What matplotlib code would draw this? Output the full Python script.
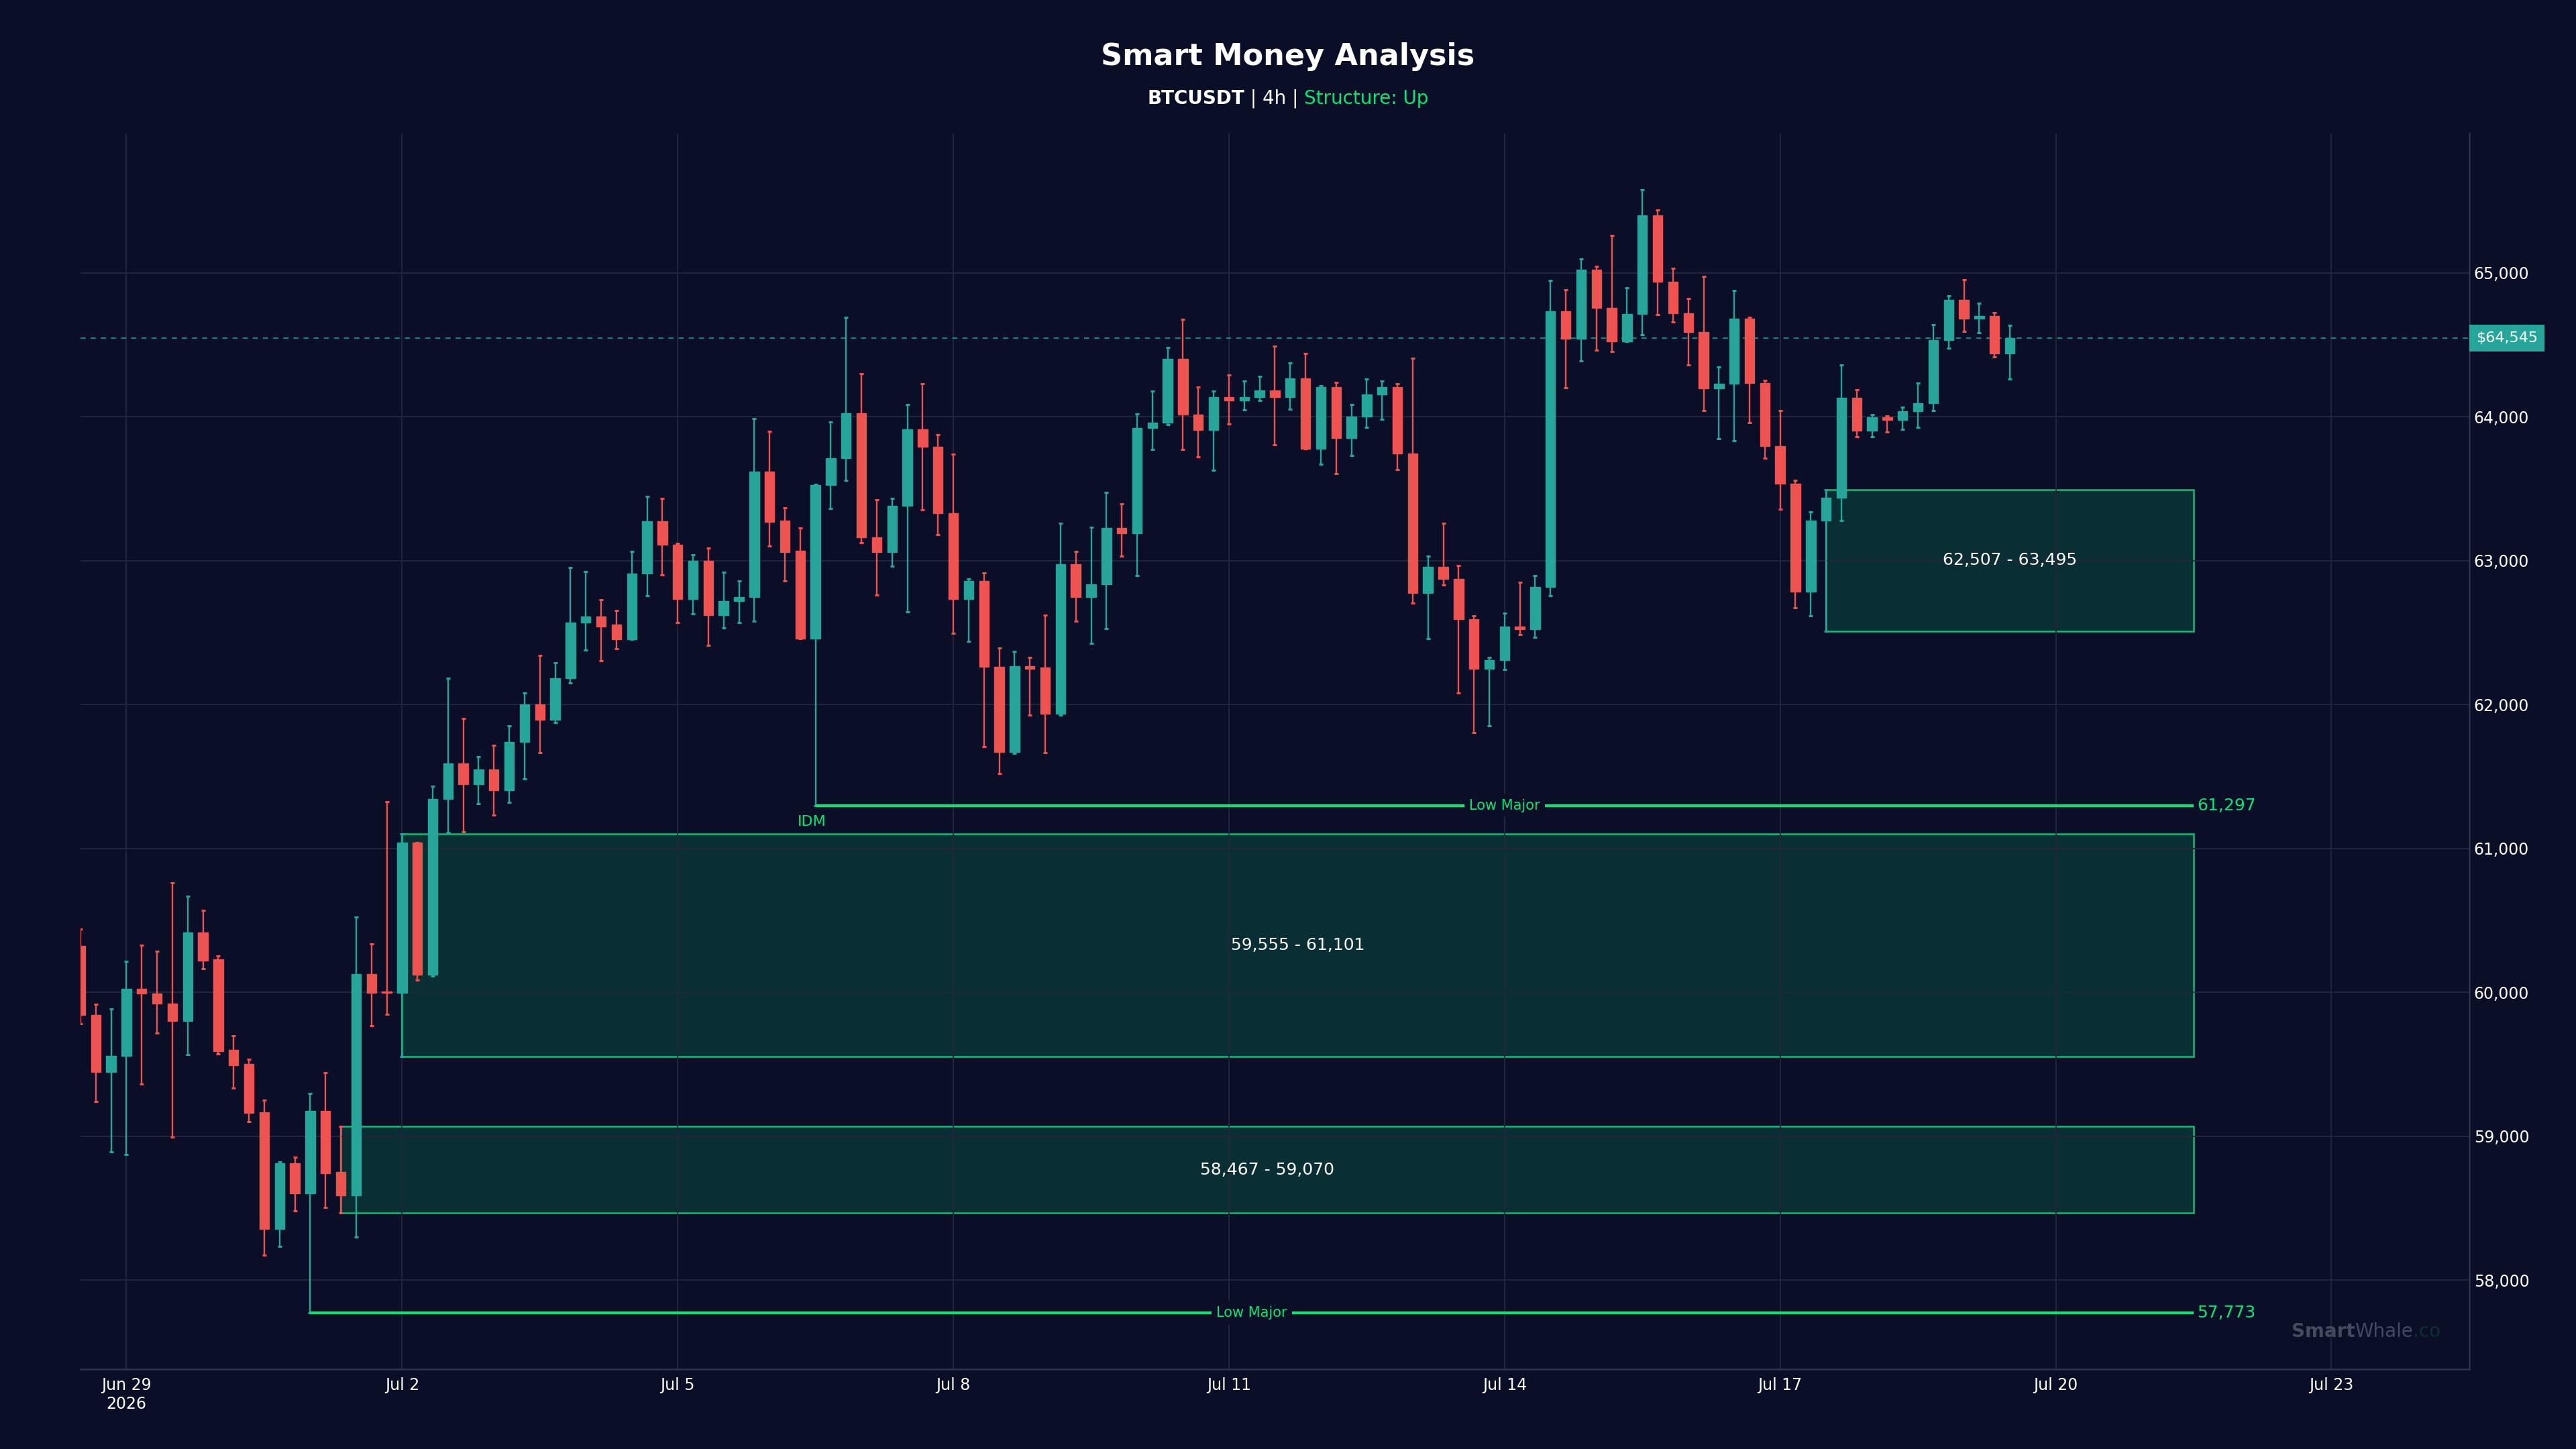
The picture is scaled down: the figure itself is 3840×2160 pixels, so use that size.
"""Smart money chart: BTCUSDT 4h candles with order blocks and structure levels."""

import matplotlib

matplotlib.use("Agg")

import matplotlib.dates as mdates
import matplotlib.pyplot as plt
import matplotlib.transforms as mtransforms
import pandas as pd
from matplotlib.patches import Rectangle

SYMBOL = "BTCUSDT"
TIMEFRAME = "4h"
STRUCTURE = "Up"
FIRST_BAR = "2026-06-28 12:00"

opens = [
    60322, 59845, 59449, 59559, 60025, 59994, 59924, 59800, 60418, 60232,
    59600, 59503, 59169, 58356, 58811, 58604, 59178, 58751, 58590, 60127,
    60005, 59997, 61040, 60121, 61342, 61590, 61446, 61548, 61404, 61740,
    62000, 61893, 62183, 62569, 62611, 62554, 62451, 62911, 63274, 63111,
    62731, 63000, 62623, 62717, 62749, 63620, 63277, 63069, 62460, 63526,
    63714, 64026, 63160, 63057, 63383, 63914, 63789, 63329, 62731, 62860,
    62263, 61669, 62266, 62257, 61937, 62977, 62748, 62837, 63227, 63192,
    63921, 63960, 64400, 64017, 63908, 64135, 64115, 64137, 64181, 64135,
    64267, 63777, 64206, 63850, 64000, 64154, 64206, 63744, 62773, 62956,
    62875, 62592, 62250, 62310, 62544, 62525, 62815, 64731, 64540, 65021,
    64755, 64521, 64714, 65398, 64938, 64719, 64588, 64195, 64231, 64683,
    64236, 63795, 63533, 62786, 63279, 63436, 64133, 63902, 63998, 63976,
    64036, 64093, 64533, 64812, 64683, 64698, 64440,
]
highs = [
    60439, 59918, 59887, 60215, 60328, 60288, 60760, 60669, 60568, 60251,
    59698, 59537, 59251, 58822, 58856, 59296, 59440, 59070, 60523, 60336,
    61325, 61101, 61040, 61432, 62184, 61901, 61636, 61715, 61853, 62079,
    62340, 62291, 62951, 62923, 62729, 62654, 63066, 63446, 63431, 63120,
    63040, 63086, 62920, 62860, 63986, 63897, 63369, 63226, 63531, 63963,
    64691, 64300, 63423, 63431, 64086, 64229, 63874, 63740, 62874, 62914,
    62394, 62371, 62326, 62620, 63260, 63063, 63231, 63475, 63396, 64021,
    64179, 64479, 64679, 64204, 64177, 64288, 64250, 64279, 64490, 64375,
    64437, 64215, 64237, 64083, 64262, 64248, 64229, 64408, 63029, 63260,
    62965, 62615, 62327, 62637, 62848, 62896, 64948, 64881, 65098, 65045,
    65260, 64898, 65576, 65438, 65031, 64819, 64976, 64345, 64876, 64693,
    64252, 64043, 63557, 63338, 63495, 64360, 64188, 64014, 64005, 64067,
    64233, 64638, 64838, 64950, 64790, 64724, 64633,
]
lows = [
    59783, 59240, 58890, 58873, 59364, 59715, 58994, 59568, 60164, 59571,
    59333, 59104, 58175, 58234, 58480, 57773, 58503, 58467, 58299, 59768,
    59847, 59555, 60085, 60113, 61110, 61116, 61311, 61232, 61319, 61483,
    61664, 61876, 62151, 62380, 62306, 62386, 62451, 62754, 62903, 62569,
    62629, 62411, 62534, 62569, 62580, 63100, 62860, 62460, 61297, 63360,
    63560, 63123, 62760, 62960, 62643, 63354, 63180, 62494, 62440, 61709,
    61523, 61663, 61926, 61667, 61927, 62581, 62427, 62529, 63031, 62896,
    63773, 63944, 63771, 63719, 63629, 63948, 64046, 64112, 63804, 64052,
    63777, 63669, 63604, 63729, 63927, 63983, 63633, 62704, 62456, 62833,
    62079, 61804, 61852, 62242, 62487, 62469, 62755, 64202, 64390, 64460,
    64455, 64521, 64569, 64710, 64660, 64362, 64043, 63848, 63831, 63957,
    63712, 63357, 62674, 62617, 62507, 63279, 63860, 63860, 63893, 63910,
    63924, 64045, 64474, 64595, 64583, 64417, 64260,
]
closes = [
    59845, 59449, 59559, 60025, 59994, 59924, 59800, 60418, 60220, 59593,
    59494, 59161, 58356, 58811, 58604, 59178, 58743, 58590, 60127, 59997,
    59998, 61040, 60121, 61342, 61590, 61446, 61548, 61404, 61740, 62000,
    61893, 62183, 62569, 62611, 62543, 62451, 62911, 63274, 63111, 62731,
    63000, 62623, 62717, 62749, 63620, 63269, 63057, 62460, 63526, 63714,
    64026, 63160, 63057, 63383, 63914, 63789, 63329, 62731, 62860, 62263,
    61669, 62266, 62250, 61937, 62977, 62748, 62837, 63227, 63192, 63921,
    63960, 64400, 64017, 63908, 64135, 64115, 64137, 64181, 64135, 64267,
    63777, 64206, 63850, 64000, 64154, 64206, 63744, 62773, 62956, 62875,
    62592, 62250, 62310, 62544, 62525, 62815, 64731, 64540, 65021, 64755,
    64521, 64714, 65398, 64938, 64719, 64588, 64195, 64231, 64683, 64236,
    63795, 63533, 62786, 63279, 63436, 64133, 63902, 63998, 63976, 64036,
    64093, 64533, 64812, 64683, 64698, 64440, 64545,
]

# order blocks (bullish), anchored at the bar that formed them
ob_bottoms = [59555, 58467, 62507]
ob_tops = [61101, 59070, 63495]
ob_start_bars = [21, 17, 114]

# structure levels
level_prices = [61297, 57773]
level_start_bars = [48, 15]
level_names = ["Low Major", "Low Major"]
idm_bar = 48

tick_dates = ["2026-06-29", "2026-07-02", "2026-07-05", "2026-07-08", "2026-07-11",
              "2026-07-14", "2026-07-17", "2026-07-20", "2026-07-23"]

BG = "#0a0e27"
GRID = "#22263a"
SPINE = "#30344a"
UP = "#26a69a"
DOWN = "#ef5350"
STRUCT = "#00e676"
ZONE_FACE = "#092e33"
ZONE_EDGE = "#0cbf78"
TEXT = "#ffffff"


def pieces_centered(fig, pieces, y, x_center=0.5, align="center"):
    """Place differently styled strings side by side on one baseline."""
    renderer = fig.canvas.get_renderer()
    texts = [fig.text(0, y, s, va="center", ha="left", **kw) for s, kw in pieces]
    widths = [t.get_window_extent(renderer).width for t in texts]
    total = sum(widths)
    fig_w = fig.bbox.width
    if align == "center":
        x = x_center * fig_w - total / 2
    else:
        x = x_center * fig_w - total
    for t, w in zip(texts, widths):
        t.set_x(x / fig_w)
        x += w


def main() -> None:
    times = pd.date_range(FIRST_BAR, periods=len(closes), freq="4h")
    t = mdates.date2num(times.to_pydatetime())
    bar = 4 / 24
    body_w = 0.63 * bar
    zone_end = t[-1] + 2.0

    fig = plt.figure(figsize=(19.2, 10.8), dpi=200, facecolor=BG)
    ax = fig.add_axes([0.03125, 0.0552, 0.9273, 0.8525], facecolor=BG)

    for i in range(len(closes)):
        o, h, l, c = opens[i], highs[i], lows[i], closes[i]
        col = UP if c >= o else DOWN
        ax.vlines(t[i], l, h, color=col, lw=0.85, zorder=2)
        ax.plot([t[i], t[i]], [l, h], ls="none", marker="_", ms=2.2, mew=1.1,
                color=col, zorder=2)
        ax.add_patch(Rectangle((t[i] - body_w / 2, min(o, c)), body_w, abs(c - o),
                               facecolor=col, edgecolor=col, lw=0.5, zorder=3))

    for lo, hi, sb in zip(ob_bottoms, ob_tops, ob_start_bars):
        ax.add_patch(Rectangle((t[sb], lo), zone_end - t[sb], hi - lo,
                               facecolor=ZONE_FACE, edgecolor=ZONE_EDGE, lw=0.9,
                               zorder=0.3))
        ax.text((t[sb] + zone_end) / 2, (lo + hi) / 2, f"{lo:,} - {hi:,}",
                color=TEXT, fontsize=9, ha="center", va="center", zorder=4)

    for price, sb, name in zip(level_prices, level_start_bars, level_names):
        ax.hlines(price, t[sb], zone_end, color=STRUCT, lw=1.5, zorder=2.5)
        ax.text((t[sb] + zone_end) / 2, price, name, color=STRUCT, fontsize=7.5,
                ha="center", va="center", zorder=4,
                bbox=dict(boxstyle="square,pad=0.35", fc=BG, ec="none"))
        ax.annotate(f"{price:,}", xy=(zone_end, price), xytext=(2, 0),
                    textcoords="offset points", color=STRUCT, fontsize=9,
                    ha="left", va="center")

    ax.annotate("IDM", xy=(t[idm_bar], level_prices[0]), xytext=(-2, -5),
                textcoords="offset points", color=STRUCT, fontsize=8,
                ha="center", va="top")

    last = closes[-1]
    ax.axhline(last, color=UP, lw=0.8, ls=(0, (3.4, 3.4)), alpha=0.75, zorder=1)
    tag_tr = mtransforms.offset_copy(
        mtransforms.blended_transform_factory(ax.transAxes, ax.transData),
        fig=fig, x=3.6, y=0, units="points")
    ax.text(1.0, last, f"${last:,}", transform=tag_tr, color=TEXT, fontsize=8,
            ha="left", va="center", zorder=5,
            bbox=dict(boxstyle="square,pad=0.45", fc=UP, ec="none"))

    span = max(highs) - min(lows)
    ax.set_ylim(min(lows) - 0.05 * span, max(highs) + 0.05 * span)
    ax.set_xlim(t[0], t[-1] + 5.0)

    ticks = mdates.date2num(pd.to_datetime(tick_dates).to_pydatetime())
    labels = [f"{d:%b} {d.day}" for d in pd.to_datetime(tick_dates)]
    labels[0] += "\n2026"
    ax.set_xticks(ticks)
    ax.set_xticklabels(labels)
    ax.yaxis.tick_right()
    ax.set_yticks(range(58000, 65001, 1000))
    ax.yaxis.set_major_formatter(plt.FuncFormatter(lambda v, _: f"{v:,.0f}"))
    ax.tick_params(colors=TEXT, labelsize=8.5, length=0)
    ax.tick_params(axis="x", pad=4.5)
    ax.tick_params(axis="y", pad=2.5)
    ax.grid(color=GRID, lw=0.7)
    ax.set_axisbelow(True)
    for side in ("left", "top"):
        ax.spines[side].set_visible(False)
    for side in ("right", "bottom"):
        ax.spines[side].set_color(SPINE)
        ax.spines[side].set_linewidth(0.9)

    fig.text(0.5, 1 - 85 / 2160, "Smart Money Analysis", color=TEXT, fontsize=16,
             fontweight="bold", ha="center", va="center")
    pieces_centered(fig, [
        (SYMBOL, dict(color=TEXT, fontsize=10, fontweight="bold")),
        (f" | {TIMEFRAME} | ", dict(color=TEXT, fontsize=10)),
        (f"Structure: {STRUCTURE}", dict(color=STRUCT, fontsize=10)),
    ], 1 - 147 / 2160)
    pieces_centered(fig, [
        ("Smart", dict(color="#454a5e", fontsize=10, fontweight="bold")),
        ("Whale", dict(color="#454a5e", fontsize=10)),
        (".co", dict(color="#0c3036", fontsize=10)),
    ], 1 - 1985 / 2160, x_center=3638 / 3840, align="right")

    fig.savefig("out.png", dpi=200, facecolor=BG)
    plt.close(fig)


if __name__ == "__main__":
    main()
